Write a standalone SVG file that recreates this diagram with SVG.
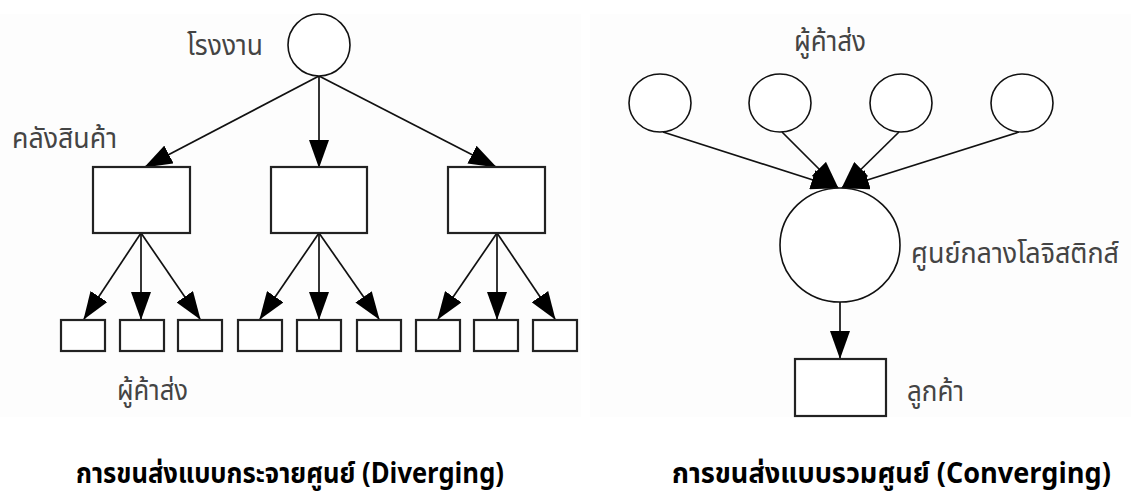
<svg xmlns="http://www.w3.org/2000/svg" width="1131" height="504" viewBox="0 0 1131 504">
  <style>
    .bg { fill: #fdfdfd; }
    .node { fill: #ffffff; stroke: #111111; stroke-width: 1.6; }
    .box { fill: #ffffff; stroke: #222222; stroke-width: 2.2; }
    .edge { stroke: #111111; stroke-width: 1.7; fill: none; marker-end: url(#head); }
    .lbl { font-family: "Noto Sans Thai", "Noto Sans", "DejaVu Sans", sans-serif; font-size: 29px; fill: #444444; }
    .cap { font-family: "Noto Sans Thai", "Noto Sans", "Liberation Sans", sans-serif; font-size: 28px; font-weight: bold; fill: #000000; }
  </style>
  <defs>
    <marker id="head" markerUnits="userSpaceOnUse" viewBox="0 0 28 20" markerWidth="28" markerHeight="20" refX="27" refY="10" orient="auto">
      <path d="M0,0 L28,10 L0,20 z" fill="#000000"/>
    </marker>
  </defs>

  <rect class="bg" x="0" y="14" width="581" height="403"/>
  <rect class="bg" x="590" y="14" width="541" height="403"/>

  <!-- diverging: factory -> warehouses -> wholesalers -->
  <g id="diverging-edges">
    <line class="edge" x1="319" y1="76" x2="145" y2="167"/>
    <line class="edge" x1="319" y1="76" x2="319" y2="167"/>
    <line class="edge" x1="319" y1="76" x2="496" y2="167"/>
    <line class="edge" x1="141" y1="233" x2="84" y2="319"/>
    <line class="edge" x1="141" y1="233" x2="141" y2="319"/>
    <line class="edge" x1="141" y1="233" x2="200" y2="319"/>
    <line class="edge" x1="319" y1="233" x2="260" y2="319"/>
    <line class="edge" x1="319" y1="233" x2="319" y2="319"/>
    <line class="edge" x1="319" y1="233" x2="379" y2="319"/>
    <line class="edge" x1="497" y1="233" x2="438" y2="319"/>
    <line class="edge" x1="497" y1="233" x2="497" y2="319"/>
    <line class="edge" x1="497" y1="233" x2="555" y2="319"/>
  </g>

  <g id="factory">
    <circle class="node" cx="319" cy="45" r="31"/>
    <text class="lbl" x="187" y="55" textLength="76" lengthAdjust="spacingAndGlyphs">โรงงาน</text>
  </g>
  <g id="warehouse-1">
    <rect class="box" x="93" y="167" width="97" height="66"/>
    <text class="lbl" x="12" y="148" textLength="105" lengthAdjust="spacingAndGlyphs">คลังสินค้า</text>
  </g>
  <g id="warehouse-2"><rect class="box" x="271" y="167" width="96" height="66"/></g>
  <g id="warehouse-3"><rect class="box" x="448" y="167" width="97" height="66"/></g>

  <g id="wholesaler-1"><rect class="box" x="61" y="320" width="44" height="31"/></g>
  <g id="wholesaler-2">
    <rect class="box" x="120" y="320" width="44" height="31"/>
    <text class="lbl" x="117" y="400" textLength="71" lengthAdjust="spacingAndGlyphs">ผู้ค้าส่ง</text>
  </g>
  <g id="wholesaler-3"><rect class="box" x="178" y="320" width="44" height="31"/></g>
  <g id="wholesaler-4"><rect class="box" x="238" y="320" width="44" height="31"/></g>
  <g id="wholesaler-5"><rect class="box" x="297" y="320" width="44" height="31"/></g>
  <g id="wholesaler-6"><rect class="box" x="357" y="320" width="44" height="31"/></g>
  <g id="wholesaler-7"><rect class="box" x="416" y="320" width="44" height="31"/></g>
  <g id="wholesaler-8"><rect class="box" x="474" y="320" width="44" height="31"/></g>
  <g id="wholesaler-9"><rect class="box" x="533" y="320" width="44" height="31"/></g>

  <!-- converging: wholesalers -> logistics centre -> customer -->
  <g id="converging-edges">
    <line class="edge" x1="663" y1="132" x2="838" y2="188"/>
    <line class="edge" x1="782" y1="132" x2="838" y2="188"/>
    <line class="edge" x1="899" y1="132" x2="842" y2="188"/>
    <line class="edge" x1="1019" y1="132" x2="842" y2="188"/>
    <line class="edge" x1="840" y1="302" x2="840" y2="358"/>
  </g>

  <g id="supplier-label">
    <text class="lbl" x="794" y="51" textLength="72" lengthAdjust="spacingAndGlyphs">ผู้ค้าส่ง</text>
  </g>
  <g id="supplier-1"><ellipse class="node" cx="660" cy="103" rx="31" ry="29"/></g>
  <g id="supplier-2"><ellipse class="node" cx="780" cy="103" rx="31" ry="29"/></g>
  <g id="supplier-3"><ellipse class="node" cx="901" cy="103" rx="31" ry="29"/></g>
  <g id="supplier-4"><ellipse class="node" cx="1022" cy="103" rx="31" ry="29"/></g>

  <g id="logistics-centre">
    <ellipse class="node" cx="840" cy="245" rx="60" ry="57"/>
    <text class="lbl" x="911" y="263" textLength="208" lengthAdjust="spacingAndGlyphs">ศูนย์กลางโลจิสติกส์</text>
  </g>
  <g id="customer">
    <rect class="box" x="795" y="359" width="91" height="57"/>
    <text class="lbl" x="907" y="401" textLength="57" lengthAdjust="spacingAndGlyphs">ลูกค้า</text>
  </g>

  <g id="captions">
    <text class="cap" x="76" y="483" textLength="428" lengthAdjust="spacingAndGlyphs">การขนส่งแบบกระจายศูนย์ (Diverging)</text>
    <text class="cap" x="672" y="483" textLength="439" lengthAdjust="spacingAndGlyphs">การขนส่งแบบรวมศูนย์ (Converging)</text>
  </g>
</svg>
